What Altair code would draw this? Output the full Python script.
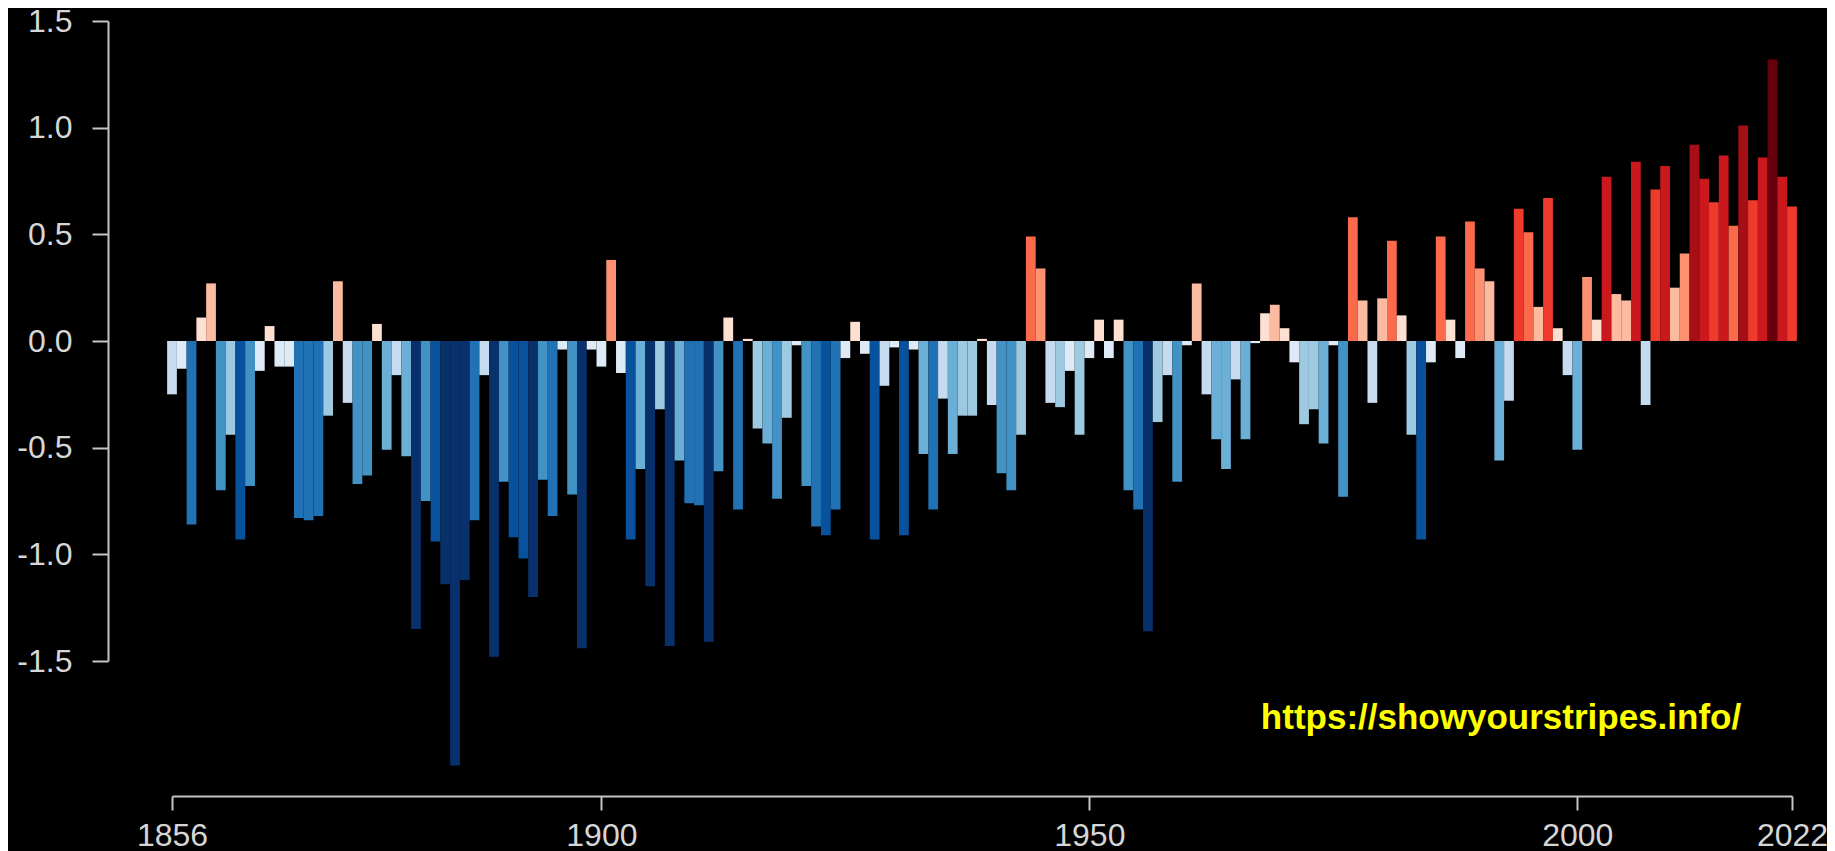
import altair as alt
import pandas as pd

# Annual temperature anomalies (deg C), 1856-2022
years = list(range(1856, 2023))
anomalies = [
    -0.25, -0.13, -0.86, 0.11, 0.27, -0.70, -0.44, -0.93, -0.68, -0.14,   # 1856-1865
    0.07, -0.12, -0.12, -0.83, -0.84, -0.82, -0.35, 0.28, -0.29, -0.67,   # 1866-1875
    -0.63, 0.08, -0.51, -0.16, -0.54, -1.35, -0.75, -0.94, -1.14, -1.99,  # 1876-1885
    -1.12, -0.84, -0.16, -1.48, -0.66, -0.92, -1.02, -1.20, -0.65, -0.82, # 1886-1895
    -0.04, -0.72, -1.44, -0.04, -0.12, 0.38, -0.15, -0.93, -0.60, -1.15,  # 1896-1905
    -0.32, -1.43, -0.56, -0.76, -0.77, -1.41, -0.61, 0.11, -0.79, 0.01,   # 1906-1915
    -0.41, -0.48, -0.74, -0.36, -0.02, -0.68, -0.87, -0.91, -0.79, -0.08, # 1916-1925
    0.09, -0.06, -0.93, -0.21, -0.03, -0.91, -0.04, -0.53, -0.79, -0.27,  # 1926-1935
    -0.53, -0.35, -0.35, 0.01, -0.30, -0.62, -0.70, -0.44, 0.49, 0.34,    # 1936-1945
    -0.29, -0.31, -0.14, -0.44, -0.08, 0.10, -0.08, 0.10, -0.70, -0.79,   # 1946-1955
    -1.36, -0.38, -0.16, -0.66, -0.02, 0.27, -0.25, -0.46, -0.60, -0.18,  # 1956-1965
    -0.46, -0.01, 0.13, 0.17, 0.06, -0.10, -0.39, -0.32, -0.48, -0.02,    # 1966-1975
    -0.73, 0.58, 0.19, -0.29, 0.20, 0.47, 0.12, -0.44, -0.93, -0.10,      # 1976-1985
    0.49, 0.10, -0.08, 0.56, 0.34, 0.28, -0.56, -0.28, 0.62, 0.51,        # 1986-1995
    0.16, 0.67, 0.06, -0.16, -0.51, 0.30, 0.10, 0.77, 0.22, 0.19,         # 1996-2005
    0.84, -0.30, 0.71, 0.82, 0.25, 0.41, 0.92, 0.76, 0.65, 0.87,          # 2006-2015
    0.54, 1.01, 0.66, 0.86, 1.32, 0.77, 0.63,                             # 2016-2022
]
assert len(years) == len(anomalies)

x_ticks = [1856, 1900, 1950, 2000, 2022]
y_ticks = [-1.5, -1.0, -0.5, 0.0, 0.5, 1.0, 1.5]

# Show-your-stripes style 16-class palette
color_breaks = [-1.05, -0.9, -0.75, -0.6, -0.45, -0.3, -0.15, 0.0,
                0.15, 0.3, 0.45, 0.6, 0.75, 0.9, 1.05]
palette = ["#08306b", "#08519c", "#2171b5", "#4292c6", "#6baed6", "#9ecae1",
           "#c6dbef", "#deebf7", "#fee0d2", "#fcbba1", "#fc9272", "#fb6a4a",
           "#ef3b2c", "#cb181d", "#a50f15", "#67000d"]

watermark = "https://showyourstripes.info/"

df = pd.DataFrame({"year": years, "anomaly": anomalies})

axis_grey = "#c4c4c4"
label_grey = "#d6d6d6"
font = "Liberation Sans"

bars = alt.Chart(df).transform_calculate(
    x0="datum.year - 0.5", x1="datum.year + 0.5", zero="0"
).mark_bar(strokeWidth=0).encode(
    x=alt.X("x0:Q",
            scale=alt.Scale(domain=[1856, 2022], nice=False, zero=False),
            axis=alt.Axis(values=x_ticks, format="d", title=None, grid=False,
                          offset=135, tickSize=14, tickWidth=2, domainWidth=2,
                          tickColor=axis_grey, domainColor=axis_grey,
                          labelColor=label_grey, labelFont=font, labelFontSize=32,
                          labelPadding=10, labelFlush=False, labelOverlap=False,
                          labelBound=False)),
    x2="x1:Q",
    y=alt.Y("anomaly:Q",
            scale=alt.Scale(domain=[-1.5, 1.5], nice=False),
            axis=alt.Axis(values=y_ticks, title=None, grid=False,
                          labelExpr="(datum.value < 0 ? '-' : '') + format(abs(datum.value), '.1f')",
                          offset=64, tickSize=16, tickWidth=2, domainWidth=2,
                          tickColor=axis_grey, domainColor=axis_grey,
                          labelColor=label_grey, labelFont=font, labelFontSize=32,
                          labelPadding=20, labelOverlap=False, labelBound=False)),
    y2="zero:Q",
    color=alt.Color("anomaly:Q",
                    scale=alt.Scale(type="threshold", domain=color_breaks, range=palette),
                    legend=None),
)

text = alt.Chart(pd.DataFrame({"label": [watermark]})).mark_text(
    font="Liberation Sans",
    fontSize=35, fontWeight="bold", color="#ffff00",
    align="center", baseline="alphabetic",
).encode(
    text="label:N",
    x=alt.value(1329),
    y=alt.value(708),
)

chart = alt.layer(bars, text).properties(
    width=1620,
    height=640,
    padding={"left": 164, "top": 13, "right": 35, "bottom": 190},
    autosize=alt.AutoSizeParams(type="none"),
    background="black",
    usermeta={"embedOptions": {"defaultStyle": "html, body { background: #000; overflow: hidden; }"}},
).configure_view(stroke=None)

chart.save("out.html", embed_options={"renderer": "svg", "actions": False})
